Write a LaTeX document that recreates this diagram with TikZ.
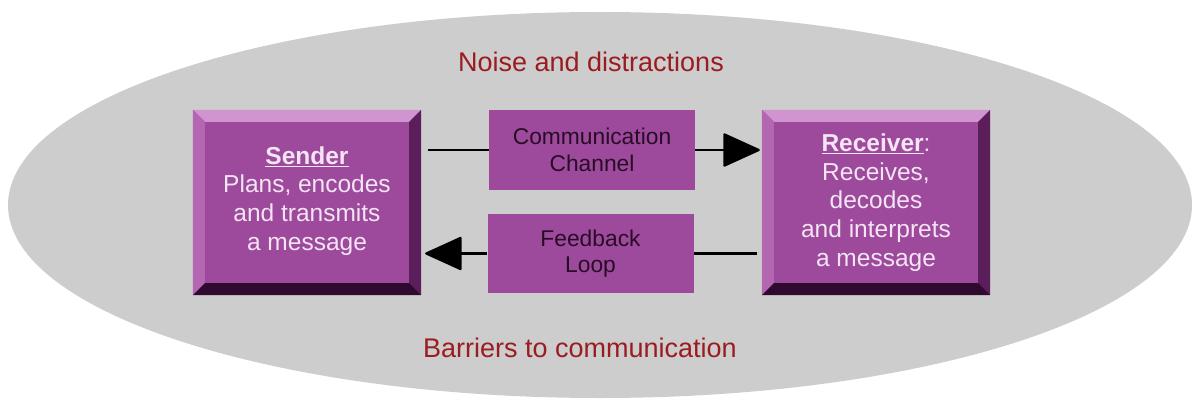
\documentclass[tikz,border=0pt]{standalone}
\usepackage{fontspec}
\setmainfont{Liberation Sans}
\usetikzlibrary{shapes.geometric,arrows.meta,calc}
\definecolor{field}{RGB}{205,205,205}
\definecolor{face}{RGB}{157,74,156}
\definecolor{bevtop}{RGB}{208,148,208}
\definecolor{bevleft}{RGB}{180,102,178}
\definecolor{bevright}{RGB}{92,30,90}
\definecolor{bevbot}{RGB}{48,10,46}
\definecolor{boxtext}{RGB}{244,228,244}
\definecolor{darkred}{RGB}{155,28,32}
\definecolor{midtext}{RGB}{40,12,38}
\newcommand{\bevelbox}[2]{%
  \fill[bevtop] (#1.north west) -- (#1.north east) -- ([shift={(-#2,-#2)}]#1.north east) -- ([shift={(#2,-#2)}]#1.north west) -- cycle;
  \fill[bevleft] (#1.north west) -- ([shift={(#2,-#2)}]#1.north west) -- ([shift={(#2,#2)}]#1.south west) -- (#1.south west) -- cycle;
  \fill[bevright] (#1.north east) -- (#1.south east) -- ([shift={(-#2,#2)}]#1.south east) -- ([shift={(-#2,-#2)}]#1.north east) -- cycle;
  \fill[bevbot] (#1.south west) -- ([shift={(#2,#2)}]#1.south west) -- ([shift={(-#2,#2)}]#1.south east) -- (#1.south east) -- cycle;
}
\tikzset{
  bigbox/.style={rectangle, fill=face, minimum width=228pt, minimum height=185pt, inner sep=0pt,
    text=boxtext, align=center, font=\fontsize{24.5}{28.8}\selectfont},
  midbox/.style={rectangle, fill=face, minimum width=206pt, minimum height=79pt, inner sep=0pt,
    text=midtext, align=center, font=\fontsize{22.8}{26.5}\selectfont},
  caption/.style={text=darkred, font=\fontsize{27}{30}\selectfont, inner sep=0pt},
  conn/.style={line width=2.2pt, draw=black},
  head/.style={-{Triangle[length=38pt,width=34pt,round]}}
}
\begin{document}
\begin{tikzpicture}[x=1pt,y=-1pt]
\useasboundingbox (0,0) rectangle (1193,401);
\node[ellipse, fill=field, minimum width=1184pt, minimum height=386pt, inner sep=0pt] (fieldbg) at (600,205) {};
\node[caption] (noise) at (591,62) {Noise and distractions};
\node[caption] (barriers) at (580,348) {Barriers to communication};
\node[bigbox] (sender) at (307,202.5) {};
\bevelbox{sender}{12pt}
\node[bigbox, fill=none] (sendertext) at (307,201) {\underline{\textbf{Sender}}\\Plans, encodes\\and transmits\\a message};
\node[bigbox] (receiver) at (876,202.5) {};
\bevelbox{receiver}{12pt}
\node[bigbox, fill=none] (receivertext) at (876,202.5) {\underline{\textbf{Receiver}}:\\Receives,\\decodes\\and interprets\\a message};
\node[midbox] (channel) at (592,150) {Communication\\Channel};
\node[midbox] (feedback) at (590.5,253.5) {Feedback\\Loop};
\draw[conn] ([xshift=7pt]sender.east |- channel.west) -- (channel.west);
\draw[conn, head] (channel.east) -- ([xshift=-2pt]receiver.west |- channel.east);
\draw[conn] ([xshift=-5pt]receiver.west |- feedback.east) -- (feedback.east);
\draw[conn, head] (feedback.west) -- ([xshift=4pt]sender.east |- feedback.west);
\end{tikzpicture}
\end{document}
